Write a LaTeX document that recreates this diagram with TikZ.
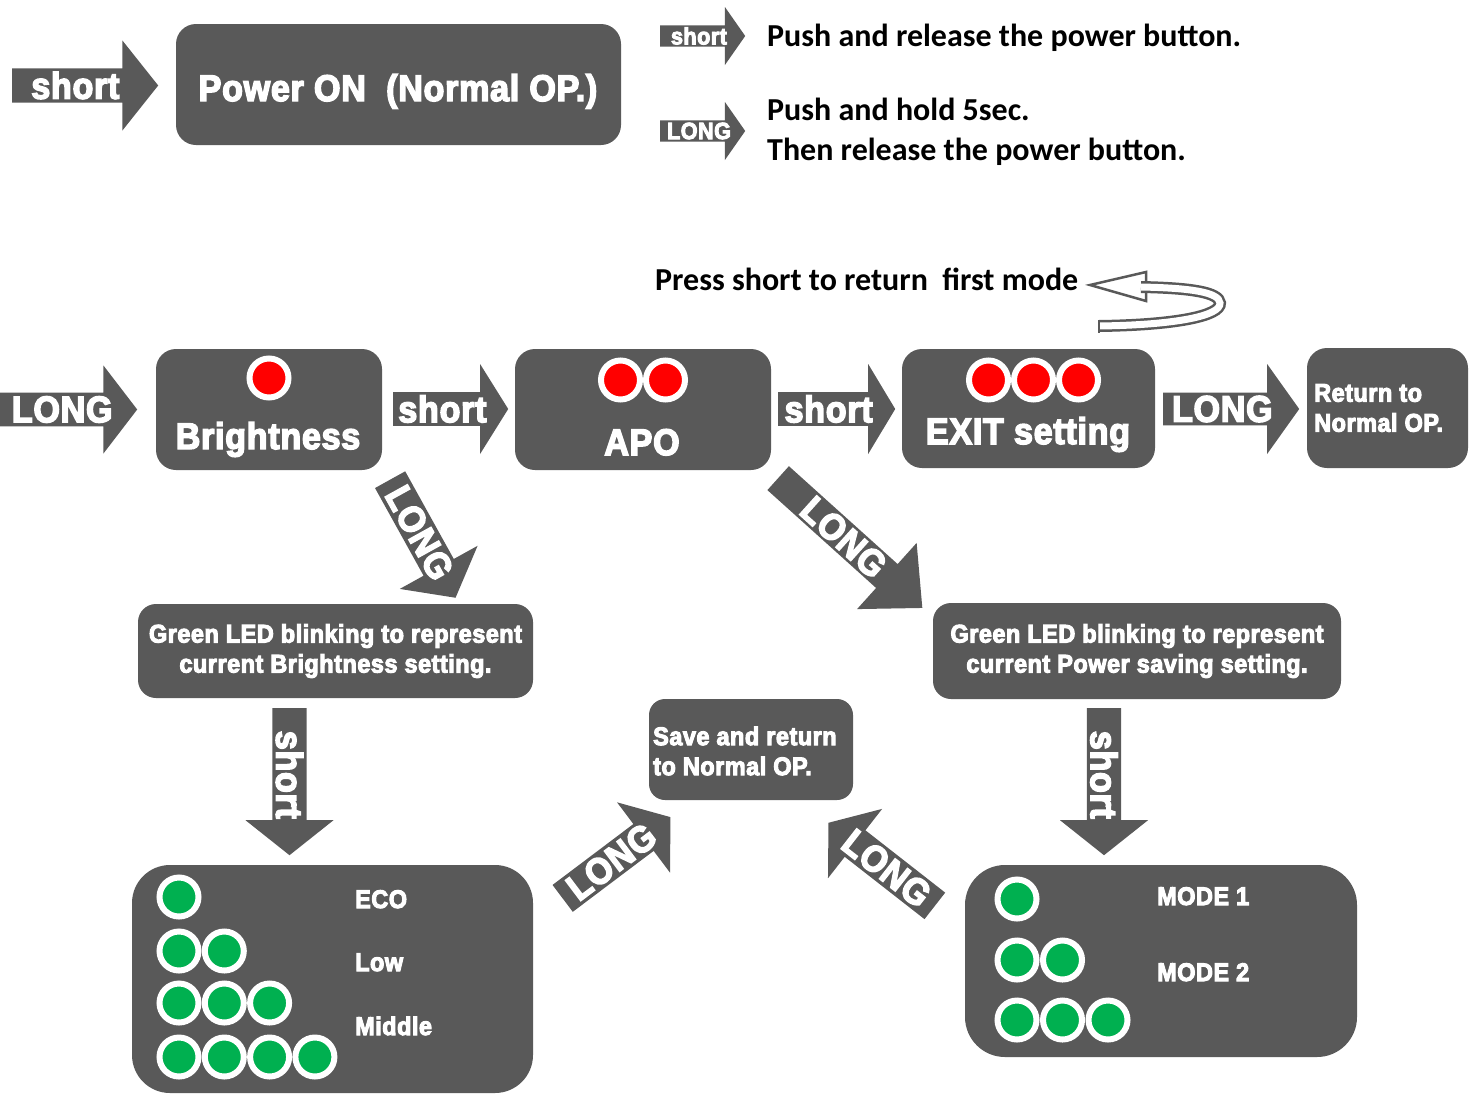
\documentclass[tikz,border=0pt]{standalone}
\usepackage{fontspec}
\usetikzlibrary{shapes.arrows}
\newfontfamily\boxfont{Liberation Sans Bold}[FakeStretch=0.92, FakeBold=4, LetterSpace=2]
\newfontfamily\notefont{Carlito}
\definecolor{boxgray}{RGB}{89,89,89}
\definecolor{ledred}{RGB}{255,0,0}
\definecolor{ledgreen}{RGB}{0,176,80}
\tikzset{
  panel/.style={rectangle, fill=boxgray, rounded corners=#1, inner sep=0pt},
  panel/.default=20pt,
  bigtxt/.style={text=white, inner sep=0pt, font=\boxfont\fontsize{37}{44}\selectfont},
  smalltxt/.style={text=white, inner sep=0pt, font=\boxfont\fontsize{25.5}{30}\selectfont},
  notetxt/.style={text=black, inner sep=0pt, anchor=base west, font=\notefont\bfseries\fontsize{32}{40}\selectfont},
  blockarrow/.style n args={4}{single arrow, fill=boxgray, anchor=tail,
    minimum height=#1pt, minimum width=#2pt,
    single arrow head extend={(#2pt-#3pt)/2}, single arrow tip angle=#4},
  leddot/.style={circle, draw=white, line width=6pt, minimum size=39pt, inner sep=0pt, fill=#1},
  ribbon/.style={draw=boxgray, line width=2.5pt, double=white, double distance=7pt}
}
\begin{document}
\begin{tikzpicture}[x=1pt, y=-1pt]
\useasboundingbox (0,0) rectangle (1477,1095);

% power on and the key
\node[blockarrow={146}{90}{45}{103}, bigtxt] (pwrarrow) at (12,85.5) {short\kern6pt};
\node[panel, minimum width=445pt, minimum height=121pt] (power) at (398.5,84.5) {};
\node[bigtxt, anchor=base] (powertxt) at (398,101) {Power ON~ (Normal OP.)};

\node[blockarrow={85}{58}{28}{110}, smalltxt, font=\boxfont\fontsize{23.5}{30}\selectfont] (keyshort) at (660,36) {short};
\node[blockarrow={85}{58}{28}{110}, smalltxt, font=\boxfont\fontsize{23.5}{30}\selectfont] (keylong) at (660,131) {LONG};
\node[notetxt] (pushtxt) at (767,46) {Push and release the power button.};
\node[notetxt] (holdtxt) at (767,120) {Push and hold 5sec.};
\node[notetxt] (thentxt) at (767,160) {Then release the power button.};

% setting loop
\node[notetxt] (presstxt) at (655,290) {Press short to return~ first mode};
\coordinate (looptip) at (1090,285);
\filldraw[fill=white, draw=boxgray, line width=2.5pt] (1146,272) -- (looptip) -- (1146,301) -- cycle;
\draw[ribbon] (1099,326) .. controls (1175,325) and (1221,316) .. (1220,303)
  .. controls (1219,292) and (1190,288) .. (1141,287);
\draw[boxgray, line width=2.5pt] (1099,319.5) -- (1099,332.5);

\node[blockarrow={137}{88}{45}{105}, bigtxt] (longin) at (0,409.5) {LONG};
\node[panel, minimum width=226pt, minimum height=121pt] (bright) at (269,409.5) {};
\node[leddot=ledred] (br1) at (269,378) {};
\node[bigtxt, anchor=base] (brtxt) at (268,449) {Brightness};

\node[blockarrow={115}{90}{44}{116}, bigtxt] (shortA) at (393,409) {short\kern6pt};
\node[panel, minimum width=256pt, minimum height=121pt] (apo) at (643,409.5) {};
\foreach \x [count=\i] in {620.5,665.5}
  \node[leddot=ledred] (apo\i) at (\x,380) {};
\node[bigtxt, anchor=base] (apotxt) at (642,455) {APO};

\node[blockarrow={117}{90}{44}{118}, bigtxt] (shortB) at (778,409) {short\kern6pt};
\node[panel, minimum width=253pt, minimum height=119pt] (exit) at (1028.5,408.5) {};
\foreach \x [count=\i] in {988.5,1033.5,1078.5}
  \node[leddot=ledred] (ex\i) at (\x,380) {};
\node[bigtxt, anchor=base] (exittxt) at (1028,444) {EXIT setting};

\node[blockarrow={136}{90}{44}{109}, bigtxt] (longout) at (1163,409) {LONG\kern6pt};
\node[panel, minimum width=161pt, minimum height=120pt] (back) at (1387.5,408) {};
\node[smalltxt, anchor=west, align=left] (backtxt) at (1314,408) {Return to\\Normal OP.};

% brightness branch
\node[blockarrow={135}{89}{47}{104}, bigtxt, rotate=-61] (longbr) at (390,479.5) {LONG};
\node[panel=18pt, minimum width=395pt, minimum height=94pt, smalltxt, align=center] (brled) at (335.5,651)
  {Green LED blinking to represent\\current Brightness setting.};
\node[blockarrow={147}{88}{45}{103}, bigtxt, rotate=-90] (shortbr) at (289.5,708) {short};
\node[panel=38pt, minimum width=401pt, minimum height=228pt] (eco) at (332.5,979) {};
\foreach \r/\y in {1/897,2/951,3/1003,4/1057}
  \foreach \c in {1,...,\r}
    \node[leddot=ledgreen] (eco\r\c) at ({179+45.3*(\c-1)},\y) {};
\node[smalltxt, anchor=base west] (ecotxt) at (355,908) {ECO};
\node[smalltxt, anchor=base west] (lowtxt) at (355,971) {Low};
\node[smalltxt, anchor=base west] (midtxt) at (355,1035) {Middle};

% power saving branch
\node[blockarrow={194}{89}{42}{86}, bigtxt, rotate=-42] (longapo) at (778,478) {LONG};
\node[panel=18pt, minimum width=408pt, minimum height=96pt, smalltxt, align=center] (psled) at (1137,651)
  {Green LED blinking to represent\\current Power saving setting.};
\node[blockarrow={147}{88}{45}{103}, bigtxt, rotate=-90] (shortps) at (1104,708) {short};
\node[panel=40pt, minimum width=392pt, minimum height=192pt] (mode) at (1161,961) {};
\foreach \r/\y in {1/899,2/960,3/1020}
  \foreach \c in {1,...,\r}
    \node[leddot=ledgreen] (mode\r\c) at ({1017+45.5*(\c-1)},\y) {};
\node[smalltxt, anchor=base west] (mode1txt) at (1157,905) {MODE 1};
\node[smalltxt, anchor=base west] (mode2txt) at (1157,981) {MODE 2};

% save
\node[panel=16pt, minimum width=204pt, minimum height=101pt] (save) at (751,749.5) {};
\node[smalltxt, anchor=west, align=left] (savetxt) at (653,751) {Save and return\\to Normal OP.};
\node[blockarrow={135}{88}{45}{105}, bigtxt, rotate=37] (longsaveA) at (562.5,898.5) {LONG};
\node[blockarrow={135}{88}{45}{105}, bigtxt, rotate=142] (longsaveB) at (935,906) {\rotatebox{180}{LONG}};

\end{tikzpicture}
\end{document}
